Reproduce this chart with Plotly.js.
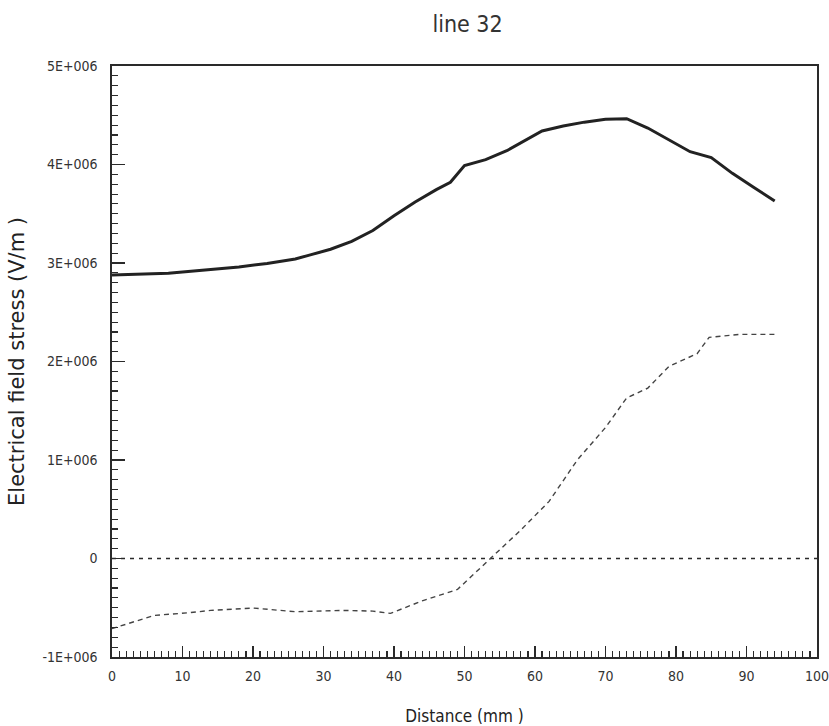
<!DOCTYPE html>
<html>
<head>
<meta charset="utf-8">
<script src="https://cdn.plot.ly/plotly-3.0.1.min.js"></script>
<style>html,body{margin:0;padding:0;background:#fff;}#chart{width:829px;height:726px;}</style>
</head>
<body>
<div id="chart"></div>
<script>
// Distance (mm) and field stress (V/m)
const solidX = [0, 4, 8, 14, 18, 22, 26, 28, 31, 34, 37, 40, 43, 46, 48, 50, 53, 56, 58, 61, 64, 67, 70, 73, 76, 79, 82, 85, 88, 91, 94];
const solidY = [2.877e6, 2.885e6, 2.895e6, 2.935e6, 2.96e6, 2.996e6, 3.04e6, 3.08e6, 3.14e6, 3.22e6, 3.33e6, 3.48e6, 3.62e6, 3.745e6, 3.82e6, 3.99e6, 4.05e6, 4.14e6, 4.22e6, 4.34e6, 4.39e6, 4.43e6, 4.46e6, 4.465e6, 4.37e6, 4.25e6, 4.13e6, 4.07e6, 3.91e6, 3.77e6, 3.63e6];

const dashX = [0, 6, 11, 14, 20, 26, 33, 37, 39.5, 44, 49, 51.5, 54, 58, 62, 66, 70, 73, 76, 79, 83, 84.7, 89, 94];
const dashY = [-0.712e6, -0.578e6, -0.55e6, -0.527e6, -0.503e6, -0.54e6, -0.527e6, -0.534e6, -0.557e6, -0.43e6, -0.314e6, -0.145e6, 0.02e6, 0.29e6, 0.58e6, 1.0e6, 1.33e6, 1.63e6, 1.73e6, 1.95e6, 2.08e6, 2.245e6, 2.275e6, 2.275e6];

const zeroX = [0, 100];
const zeroY = [0, 0];

const xTickVals = [0, 10, 20, 30, 40, 50, 60, 70, 80, 90, 100];
const xTickText = ["0", "10", "20", "30", "40", "50", "60", "70", "80", "90", "100"];
const yTickVals = [-1e6, 0, 1e6, 2e6, 3e6, 4e6, 5e6];
const yTickText = ["-1E+006", "0", "1E+006", "2E+006", "3E+006", "4E+006", "5E+006"];

const FONT = "DejaVu Sans Condensed, Liberation Sans Narrow, DejaVu Sans, sans-serif";
const FONT_WIDE = "DejaVu Sans, sans-serif";
const INK = "#2a2a2a";

const traces = [
  {x: zeroX, y: zeroY, mode: "lines", line: {color: INK, width: 1.6, dash: "4px,5px"}, hoverinfo: "skip"},
  {x: dashX, y: dashY, mode: "lines", line: {color: "#444", width: 1.4, dash: "5px,4px"}},
  {x: solidX, y: solidY, mode: "lines", line: {color: "#222", width: 3}}
];

const axisCommon = {
  showline: true, linecolor: INK, linewidth: 1.6, mirror: true,
  showgrid: false, zeroline: false,
  ticks: "inside", tickcolor: INK, tickwidth: 1.3,
  tickfont: {family: FONT, size: 14, color: "#333"},
  ticklabeloverflow: "allow",
  fixedrange: true
};

const layout = {
  width: 829, height: 726,
  paper_bgcolor: "#fff", plot_bgcolor: "#fff",
  showlegend: false,
  margin: {l: 112, r: 12, t: 66, b: 69},
  font: {family: FONT, color: "#333"},
  title: {text: "line 32", x: 0.564, xanchor: "center", y: 0.967, yanchor: "middle", yref: "container",
          font: {family: FONT, size: 23, color: "#333"}},
  xaxis: Object.assign({}, axisCommon, {
    range: [0, 100], tickvals: xTickVals, ticktext: xTickText, ticklen: 11,
    ticklabelstandoff: 6,
    minor: {dtick: 1, ticklen: 6, ticks: "inside", tickcolor: INK, tickwidth: 1.1, showgrid: false},
    title: {text: "Distance (mm )", font: {family: FONT, size: 17, color: "#222"}, standoff: 26}
  }),
  yaxis: Object.assign({}, axisCommon, {
    range: [-1e6, 5e6], tickvals: yTickVals, ticktext: yTickText, ticklen: 13,
    ticklabelstandoff: 10,
    minor: {dtick: 1e5, ticklen: 6, ticks: "inside", tickcolor: INK, tickwidth: 1.1, showgrid: false},
    title: {text: "Electrical field stress (V/m )", font: {family: FONT_WIDE, size: 21, color: "#222"}, standoff: 12}
  })
};

Plotly.newPlot("chart", traces, layout, {displayModeBar: false, staticPlot: true});
</script>
</body>
</html>
